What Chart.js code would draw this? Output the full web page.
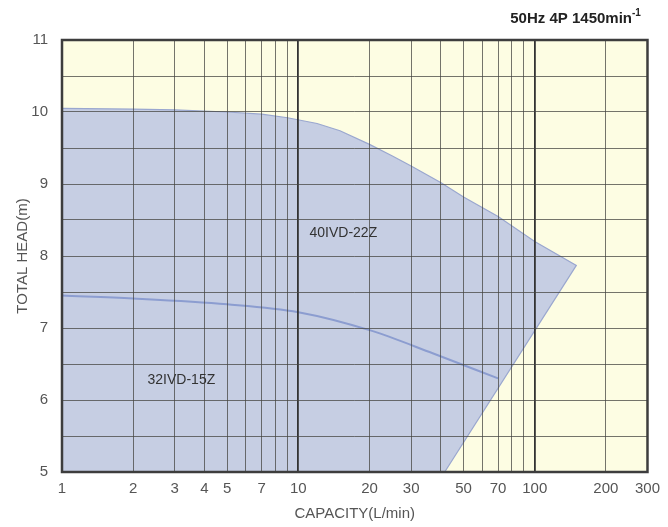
<!DOCTYPE html>
<html>
<head>
<meta charset="utf-8">
<script src="https://cdn.jsdelivr.net/npm/chart.js@4"></script>
<style>
  html, body { margin:0; padding:0; background:#fff; }
  #wrap { width:668px; height:527px; }
</style>
</head>
<body>
<div id="wrap"><canvas id="c" width="668" height="527"></canvas></div>
<script>
// ── data ──────────────────────────────────────────────────────────────────────
const capTop   = [1, 2, 3, 5, 7, 9, 12, 15, 20, 25, 30, 40, 50, 70, 100, 150, 41.6, 1];   // 40IVD-22Z outline (closed)
const headTop  = [10.05, 10.04, 10.03, 10.0, 9.97, 9.92, 9.84, 9.74, 9.55, 9.39, 9.25, 9.02, 8.82, 8.55, 8.2, 7.87, 5, 5];
const cap15    = [1, 2, 5, 10, 20, 37, 70];                                      // 32IVD-15Z curve
const head15   = [7.45, 7.41, 7.33, 7.22, 6.97, 6.65, 6.3];
const xGrid    = [1,2,3,4,5,6,7,8,9,10,20,30,40,50,60,70,80,90,100,200,300];
const xLabels  = [1,2,3,4,5,7,10,20,30,50,70,100,200,300];
const yLabels  = [5,6,7,8,9,10,11];
const modelNames = ['40IVD-22Z', '32IVD-15Z'];
const modelLabelAt = [[15.5, 8.32], [3.2, 6.27]];

const FONT = "'Liberation Sans Narrow', 'Liberation Sans', Arial, sans-serif";
const GRID = 'rgba(70,70,65,0.75)';

const bgPlugin = {
  id: 'bg',
  beforeDraw(chart) {
    const { ctx, chartArea: a } = chart;
    ctx.save();
    ctx.fillStyle = '#fdfde3';
    ctx.fillRect(a.left, a.top, a.right - a.left, a.bottom - a.top);
    ctx.restore();
  },
  afterDraw(chart) {
    const { ctx, chartArea: a, scales } = chart;
    ctx.save();
    ctx.strokeStyle = '#3d3d3d';
    ctx.lineWidth = 2.5;
    ctx.strokeRect(a.left, a.top, a.right - a.left, a.bottom - a.top);

    // model labels
    ctx.fillStyle = '#333';
    ctx.font = "14px " + FONT;
    ctx.textAlign = 'center';
    ctx.textBaseline = 'middle';
    modelNames.forEach((n, i) => {
      const [x, y] = modelLabelAt[i];
      ctx.fillText(n, scales.x.getPixelForValue(x), scales.y.getPixelForValue(y));
    });

    // heading with superscript
    ctx.font = "bold 15px 'Liberation Sans', Arial, sans-serif";
    ctx.textAlign = 'left';
    ctx.textBaseline = 'alphabetic';
    const main = '50Hz 4P 1450min';
    const w = ctx.measureText(main).width;
    const x0 = 640 - w - 8;
    ctx.fillStyle = '#222';
    ctx.fillText(main, x0, 23);
    ctx.font = "bold 10px 'Liberation Sans', Arial, sans-serif";
    ctx.fillText('-1', x0 + w, 16);
    ctx.restore();
  },
};

new Chart(document.getElementById('c'), {
  type: 'scatter',
  data: {
    datasets: [
      {
        label: modelNames[0],
        data: capTop.map((x, i) => ({ x, y: headTop[i] })),
        order: 1,
        showLine: true,
        fill: 'shape',
        backgroundColor: '#c6cee3',
        borderColor: '#9aa7cf',
        borderWidth: 1.2,
        pointRadius: 0,
        tension: 0,
      },
      {
        label: modelNames[1],
        data: cap15.map((x, i) => ({ x, y: head15[i] })),
        order: 0,
        showLine: true,
        fill: false,
        borderColor: '#8c9dd0',
        borderWidth: 2,
        pointRadius: 0,
        cubicInterpolationMode: 'monotone',
      },
    ],
  },
  options: {
    responsive: false,
    animation: false,
    layout: { padding: { left: 0, right: 20, top: 40, bottom: 0 } },
    plugins: { legend: { display: false }, tooltip: { enabled: false } },
    scales: {
      x: {
        type: 'logarithmic', min: 1, max: 300,
        afterBuildTicks: s => { s.ticks = xGrid.map(v => ({ value: v })); },
        afterFit: s => { s.height = 55; },
        grid: { z: 1,
                color: ctx => [10, 100].includes(ctx.tick && ctx.tick.value) ? '#333' : GRID,
                lineWidth: ctx => [10, 100].includes(ctx.tick && ctx.tick.value) ? 1.8 : 1,
                drawTicks: false },
        border: { display: false },
        ticks: {
          autoSkip: false, maxRotation: 0, padding: 8,
          color: '#555', font: { size: 15, family: FONT },
          callback: v => xLabels.includes(v) ? String(v) : '',
        },
        title: { display: true, text: 'CAPACITY(L/min)', color: '#555', font: { size: 15, family: FONT }, padding: { top: 0 } },
      },
      y: {
        min: 5, max: 11,
        afterBuildTicks: s => { const t = []; for (let v = 5; v <= 11; v += 0.5) t.push({ value: v }); s.ticks = t; },
        afterFit: s => { s.width = 62; },
        grid: { z: 1, color: GRID, lineWidth: 1, drawTicks: false },
        border: { display: false },
        ticks: {
          padding: 14, color: '#555', font: { size: 15, family: FONT },
          callback: v => yLabels.includes(v) ? String(v) : '',
        },
        title: { display: true, text: 'TOTAL HEAD(m)', color: '#555', font: { size: 15, family: FONT }, padding: { bottom: 0, top: 14 } },
      },
    },
  },
  plugins: [bgPlugin],
});
</script>
</body>
</html>
